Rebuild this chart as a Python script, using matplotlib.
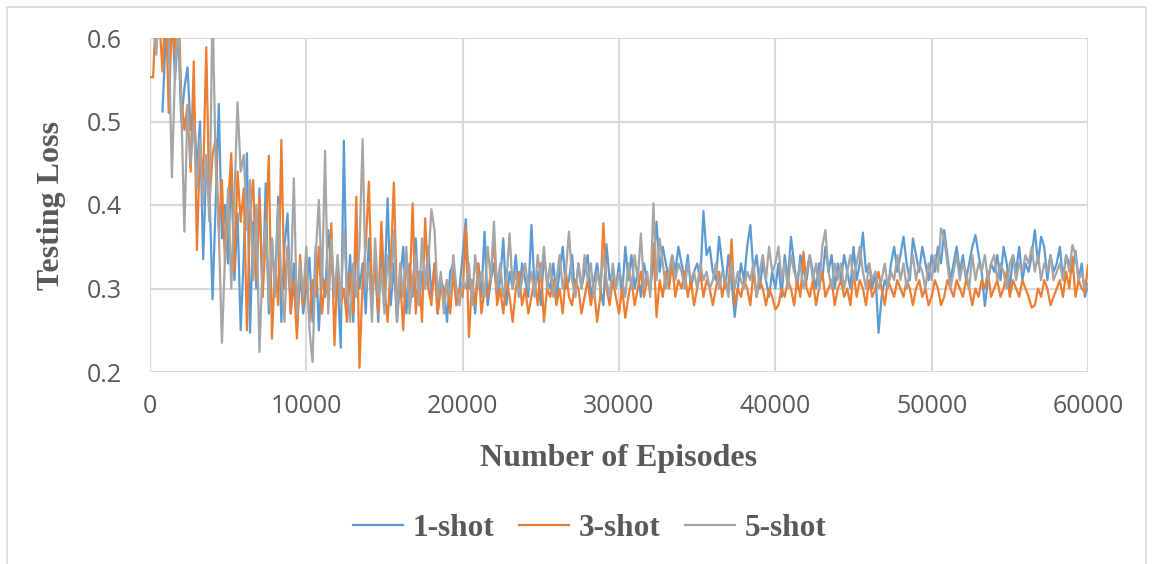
import numpy as np
import matplotlib
matplotlib.use("Agg")
from matplotlib import pyplot as plt
from matplotlib.patches import Rectangle

# x positions: one test every 200 episodes
episodes = np.arange(0, 60001, 200)

nan = np.nan
loss_1shot = [
    nan, nan, nan, nan, 0.512, 0.60, 0.57, 0.64, 0.55, 0.61,
    0.50, 0.54, 0.565, 0.49, 0.52, 0.44, 0.50, 0.335, 0.45, 0.42,
    0.287, 0.40, 0.521, 0.36, 0.40, 0.33, 0.45, 0.31, 0.39, 0.25,
    0.34, 0.462, 0.247, 0.38, 0.30, 0.42, 0.29, 0.426, 0.27, 0.36,
    0.30, 0.41, 0.26, 0.35, 0.39, 0.27, 0.33, 0.25, 0.32, 0.27,
    0.30, 0.337, 0.26, 0.35, 0.25, 0.32, 0.29, 0.37, 0.33, 0.30,
    0.31, 0.229, 0.477, 0.28, 0.34, 0.26, 0.36, 0.30, 0.33, 0.27,
    0.36, 0.29, 0.33, 0.26, 0.35, 0.30, 0.408, 0.28, 0.33, 0.26,
    0.31, 0.35, 0.27, 0.33, 0.29, 0.36, 0.28, 0.32, 0.30, 0.35,
    0.29, 0.33, 0.27, 0.31, 0.30, 0.26, 0.32, 0.33, 0.28, 0.30,
    0.34, 0.383, 0.30, 0.31, 0.27, 0.33, 0.29, 0.368, 0.28, 0.31,
    0.33, 0.29, 0.31, 0.36, 0.28, 0.32, 0.30, 0.34, 0.29, 0.33,
    0.31, 0.29, 0.376, 0.30, 0.32, 0.28, 0.34, 0.31, 0.30, 0.33,
    0.29, 0.32, 0.35, 0.30, 0.31, 0.34, 0.29, 0.33, 0.30, 0.32,
    0.34, 0.29, 0.31, 0.33, 0.30, 0.28, 0.353, 0.31, 0.32, 0.30,
    0.33, 0.29, 0.35, 0.31, 0.34, 0.30, 0.32, 0.29, 0.33, 0.31,
    0.30, 0.33, 0.38, 0.32, 0.35, 0.33, 0.31, 0.34, 0.32, 0.35,
    0.33, 0.31, 0.34, 0.30, 0.32, 0.33, 0.31, 0.393, 0.34, 0.35,
    0.32, 0.31, 0.362, 0.33, 0.30, 0.34, 0.31, 0.266, 0.30, 0.33,
    0.31, 0.35, 0.376, 0.32, 0.34, 0.30, 0.33, 0.31, 0.29, 0.32,
    0.30, 0.33, 0.29, 0.34, 0.31, 0.362, 0.33, 0.30, 0.34, 0.32,
    0.31, 0.34, 0.32, 0.30, 0.33, 0.31, 0.35, 0.32, 0.34, 0.30,
    0.33, 0.31, 0.34, 0.32, 0.30, 0.35, 0.31, 0.33, 0.367, 0.32,
    0.33, 0.30, 0.32, 0.247, 0.29, 0.31, 0.30, 0.33, 0.35, 0.32,
    0.34, 0.362, 0.33, 0.31, 0.36, 0.34, 0.32, 0.35, 0.33, 0.31,
    0.34, 0.32, 0.35, 0.33, 0.370, 0.34, 0.31, 0.33, 0.35, 0.32,
    0.34, 0.31, 0.33, 0.35, 0.364, 0.34, 0.32, 0.279, 0.31, 0.33,
    0.32, 0.34, 0.31, 0.35, 0.33, 0.30, 0.34, 0.32, 0.35, 0.31,
    0.33, 0.32, 0.34, 0.370, 0.33, 0.362, 0.35, 0.31, 0.34, 0.32,
    0.33, 0.35, 0.31, 0.34, 0.33, 0.32, 0.345, 0.31, 0.33, 0.29,
    0.305,
]
loss_3shot = [
    0.553, 0.553, 0.64, 0.62, 0.56, 0.65, 0.51, 0.62, 0.58, 0.66,
    0.53, 0.49, 0.52, 0.44, 0.572, 0.346, 0.47, 0.43, 0.589, 0.40,
    0.46, 0.479, 0.37, 0.43, 0.33, 0.40, 0.462, 0.32, 0.44, 0.38,
    0.42, 0.25, 0.39, 0.43, 0.31, 0.41, 0.29, 0.36, 0.459, 0.24,
    0.33, 0.28, 0.478, 0.30, 0.35, 0.27, 0.31, 0.24, 0.34, 0.28,
    0.32, 0.26, 0.31, 0.29, 0.35, 0.27, 0.31, 0.29, 0.378, 0.232,
    0.33, 0.28, 0.30, 0.26, 0.32, 0.27, 0.41, 0.205, 0.31, 0.35,
    0.428, 0.29, 0.33, 0.27, 0.38, 0.30, 0.26, 0.33, 0.427, 0.28,
    0.31, 0.25, 0.34, 0.29, 0.402, 0.27, 0.32, 0.26, 0.384, 0.30,
    0.28, 0.33, 0.27, 0.30, 0.29, 0.31, 0.27, 0.32, 0.28, 0.30,
    0.29, 0.374, 0.242, 0.31, 0.28, 0.33, 0.27, 0.30, 0.29, 0.32,
    0.358, 0.28, 0.30, 0.27, 0.31, 0.29, 0.26, 0.30, 0.32, 0.28,
    0.30, 0.27, 0.29, 0.31, 0.28, 0.33, 0.26, 0.30, 0.29, 0.31,
    0.28, 0.30, 0.27, 0.32, 0.29, 0.28, 0.31, 0.30, 0.27, 0.29,
    0.31, 0.28, 0.30, 0.26, 0.29, 0.378, 0.30, 0.28, 0.31, 0.29,
    0.27, 0.30, 0.265, 0.29, 0.31, 0.28, 0.30, 0.32, 0.29, 0.31,
    0.30, 0.354, 0.266, 0.31, 0.29, 0.32, 0.30, 0.33, 0.29, 0.31,
    0.30, 0.32, 0.29, 0.31, 0.28, 0.30, 0.32, 0.29, 0.31, 0.30,
    0.28, 0.30, 0.32, 0.29, 0.31, 0.30, 0.359, 0.28, 0.30, 0.29,
    0.31, 0.30, 0.28, 0.32, 0.29, 0.31, 0.30, 0.28, 0.30, 0.29,
    0.275, 0.28, 0.30, 0.29, 0.31, 0.30, 0.28, 0.31, 0.29, 0.344,
    0.30, 0.29, 0.31, 0.28, 0.30, 0.32, 0.29, 0.30, 0.31, 0.28,
    0.30, 0.31, 0.29, 0.30, 0.28, 0.32, 0.29, 0.31, 0.30, 0.28,
    0.31, 0.29, 0.30, 0.32, 0.30, 0.28, 0.31, 0.30, 0.29, 0.31,
    0.30, 0.29, 0.31, 0.30, 0.28, 0.30, 0.31, 0.29, 0.30, 0.28,
    0.29, 0.31, 0.30, 0.28, 0.29, 0.31, 0.30, 0.29, 0.31, 0.30,
    0.29, 0.31, 0.30, 0.28, 0.30, 0.29, 0.31, 0.30, 0.32, 0.29,
    0.30, 0.31, 0.29, 0.30, 0.32, 0.29, 0.31, 0.30, 0.29, 0.31,
    0.30, 0.29, 0.277, 0.28, 0.30, 0.29, 0.31, 0.30, 0.28, 0.29,
    0.30, 0.31, 0.29, 0.32, 0.30, 0.338, 0.29, 0.31, 0.30, 0.295,
    0.328,
]
loss_5shot = [
    0.66, 0.63, 0.58, 0.65, 0.61, 0.63, 0.60, 0.433, 0.56, 0.62,
    0.52, 0.368, 0.52, 0.45, 0.50, 0.42, 0.48, 0.40, 0.46, 0.38,
    0.64, 0.45, 0.37, 0.235, 0.34, 0.42, 0.30, 0.41, 0.523, 0.44,
    0.46, 0.37, 0.43, 0.31, 0.40, 0.224, 0.33, 0.38, 0.28, 0.36,
    0.29, 0.40, 0.31, 0.26, 0.35, 0.30, 0.432, 0.27, 0.33, 0.29,
    0.35, 0.25, 0.212, 0.34, 0.406, 0.30, 0.465, 0.27, 0.36, 0.29,
    0.34, 0.28, 0.37, 0.30, 0.26, 0.33, 0.29, 0.35, 0.479, 0.30,
    0.33, 0.26, 0.36, 0.29, 0.32, 0.27, 0.34, 0.30, 0.37, 0.26,
    0.33, 0.29, 0.35, 0.27, 0.31, 0.34, 0.28, 0.36, 0.30, 0.33,
    0.395, 0.37, 0.29, 0.32, 0.27, 0.31, 0.29, 0.34, 0.30, 0.28,
    0.31, 0.30, 0.33, 0.28, 0.34, 0.30, 0.32, 0.29, 0.35, 0.31,
    0.380, 0.30, 0.33, 0.29, 0.31, 0.366, 0.30, 0.32, 0.29, 0.31,
    0.33, 0.30, 0.32, 0.29, 0.34, 0.31, 0.35, 0.30, 0.33, 0.29,
    0.31, 0.34, 0.30, 0.32, 0.368, 0.31, 0.29, 0.33, 0.30, 0.34,
    0.31, 0.33, 0.29, 0.32, 0.30, 0.34, 0.31, 0.29, 0.33, 0.30,
    0.32, 0.31, 0.29, 0.33, 0.30, 0.34, 0.31, 0.366, 0.30, 0.32,
    0.29, 0.402, 0.31, 0.36, 0.33, 0.30, 0.32, 0.34, 0.31, 0.33,
    0.32, 0.30, 0.33, 0.31, 0.32, 0.30, 0.33, 0.31, 0.32, 0.30,
    0.31, 0.33, 0.30, 0.32, 0.31, 0.29, 0.33, 0.30, 0.32, 0.31,
    0.30, 0.32, 0.31, 0.33, 0.29, 0.32, 0.34, 0.31, 0.35, 0.32,
    0.33, 0.35, 0.31, 0.33, 0.30, 0.34, 0.32, 0.31, 0.33, 0.30,
    0.32, 0.34, 0.31, 0.33, 0.30, 0.35, 0.370, 0.32, 0.30, 0.33,
    0.31, 0.33, 0.30, 0.32, 0.34, 0.31, 0.33, 0.35, 0.32, 0.30,
    0.33, 0.31, 0.32, 0.30, 0.31, 0.33, 0.30, 0.32, 0.31, 0.34,
    0.31, 0.33, 0.30, 0.32, 0.34, 0.31, 0.33, 0.32, 0.30, 0.33,
    0.31, 0.34, 0.32, 0.372, 0.36, 0.33, 0.30, 0.32, 0.34, 0.31,
    0.33, 0.32, 0.30, 0.34, 0.31, 0.33, 0.32, 0.34, 0.31, 0.33,
    0.34, 0.31, 0.33, 0.32, 0.30, 0.33, 0.34, 0.31, 0.33, 0.32,
    0.34, 0.33, 0.35, 0.32, 0.34, 0.31, 0.33, 0.32, 0.34, 0.31,
    0.32, 0.33, 0.31, 0.34, 0.32, 0.352, 0.34, 0.31, 0.32, 0.30,
    0.303,
]

series_names = ["1-shot", "3-shot", "5-shot"]
series_colors = ["#5B9BD5", "#ED7D31", "#A5A5A5"]
x_ticks = [0, 10000, 20000, 30000, 40000, 50000, 60000]
y_ticks = [0.2, 0.3, 0.4, 0.5, 0.6]

text_gray = "#595959"
grid_gray = "#D9D9D9"

fig = plt.figure(figsize=(11.54, 5.64), dpi=100)
ax = fig.add_axes([150 / 1154, 1 - 372 / 564, 938 / 1154, 334 / 564])

# chart area border
fig.patches.append(Rectangle((7 / 1154, -0.05), 1139 / 1154, 1.05 - 7 / 564,
                             transform=fig.transFigure, fill=False,
                             edgecolor=grid_gray, linewidth=1.2))

for vals, name, col in zip([loss_1shot, loss_3shot, loss_5shot], series_names, series_colors):
    assert len(vals) == len(episodes)
    ax.plot(episodes, np.array(vals, dtype=float), color=col, linewidth=1.6,
            label=name, solid_joinstyle="round")

ax.set_xlim(0, 60000)
ax.set_ylim(0.2, 0.6)
ax.set_xticks(x_ticks)
ax.set_yticks(y_ticks)
ax.set_yticklabels([f"{v:.1f}" for v in y_ticks])
ax.grid(True, color=grid_gray, linewidth=1.5)
ax.set_axisbelow(True)
for s in ax.spines.values():
    s.set_visible(False)
ax.tick_params(length=0, labelsize=18, labelcolor=text_gray)
ax.tick_params(axis="y", pad=20)
ax.tick_params(axis="x", pad=16)
for lab in ax.get_xticklabels() + ax.get_yticklabels():
    lab.set_family("Open Sans")

serif_bold = dict(family="Liberation Serif", weight="bold", color=text_gray, size=23)
ax.set_xlabel("Number of Episodes", labelpad=18, **serif_bold)
ax.set_ylabel("Testing Loss", labelpad=15, **serif_bold)

leg = fig.legend(loc="center", bbox_to_anchor=(0.511, 0.063), ncol=3, frameon=False,
                 handlelength=1.6, handletextpad=0.3, columnspacing=0.8,
                 prop=dict(family="Liberation Serif", weight="bold", size=22.5))
for t in leg.get_texts():
    t.set_color(text_gray)

fig.savefig("out.png", dpi=100)
